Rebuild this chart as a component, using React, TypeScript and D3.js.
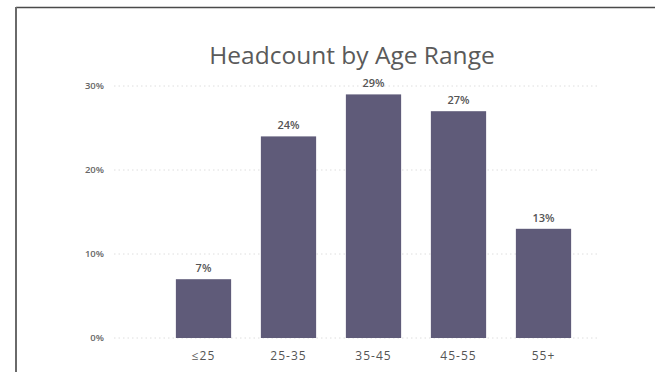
import React from "react";
import * as d3 from "d3";

const categories = ["≤25", "25-35", "35-45", "45-55", "55+"];
const shares = [7, 24, 29, 27, 13];
const yTicks = [0, 10, 20, 30];
const title = "Headcount by Age Range";

const W = 655;
const H = 372;

export default function App() {
  const x = d3
    .scaleBand<string>()
    .domain(categories)
    .range([161, 586])
    .paddingInner(0.35)
    .paddingOuter(0.175);
  const y = d3.scaleLinear().domain([0, 30]).range([338, 86]);

  const font = "'Open Sans', 'DejaVu Sans', sans-serif";

  return (
    <div style={{ position: "fixed", left: 0, top: 0 }}>
      <svg width={W} height={H} style={{ display: "block", background: "#fff" }}>
        {/* panel frame */}
        <line x1={16} x2={W} y1={7.5} y2={7.5} stroke="#4a4a4a" strokeWidth={1.6} />
        <line x1={16} x2={16} y1={7} y2={H} stroke="#6a6a6a" strokeWidth={2} />

        <text
          x={352}
          y={64}
          textAnchor="middle"
          fontFamily={font}
          fontSize={24.5}
          fill="#5a5a5a"
        >
          {title}
        </text>

        {/* gridlines and y labels */}
        {yTicks.map((t) => (
          <g key={t}>
            <line
              x1={114}
              x2={600}
              y1={y(t)}
              y2={y(t)}
              stroke="#dedede"
              strokeWidth={1}
              strokeDasharray="1.5 3"
            />
            <text
              x={104}
              y={y(t)}
              dy="0.35em"
              textAnchor="end"
              fontFamily={font}
              fontSize={9.5}
              fontWeight={600}
              fill="#666"
            >
              {t}%
            </text>
          </g>
        ))}

        {/* bars */}
        {categories.map((c, i) => (
          <g key={c}>
            <rect
              x={x(c)}
              y={y(shares[i])}
              width={x.bandwidth()}
              height={y(0) - y(shares[i])}
              fill="#5f5b79"
            />
            <text
              x={(x(c) as number) + x.bandwidth() / 2}
              y={y(shares[i]) - 7}
              textAnchor="middle"
              fontFamily={font}
              fontSize={11}
              fontWeight={600}
              fill="#555"
            >
              {shares[i]}%
            </text>
            <text
              x={(x(c) as number) + x.bandwidth() / 2}
              y={360}
              textAnchor="middle"
              fontFamily={font}
              fontSize={12}
              letterSpacing={1}
              fill="#555"
            >
              {c}
            </text>
          </g>
        ))}
      </svg>
    </div>
  );
}
